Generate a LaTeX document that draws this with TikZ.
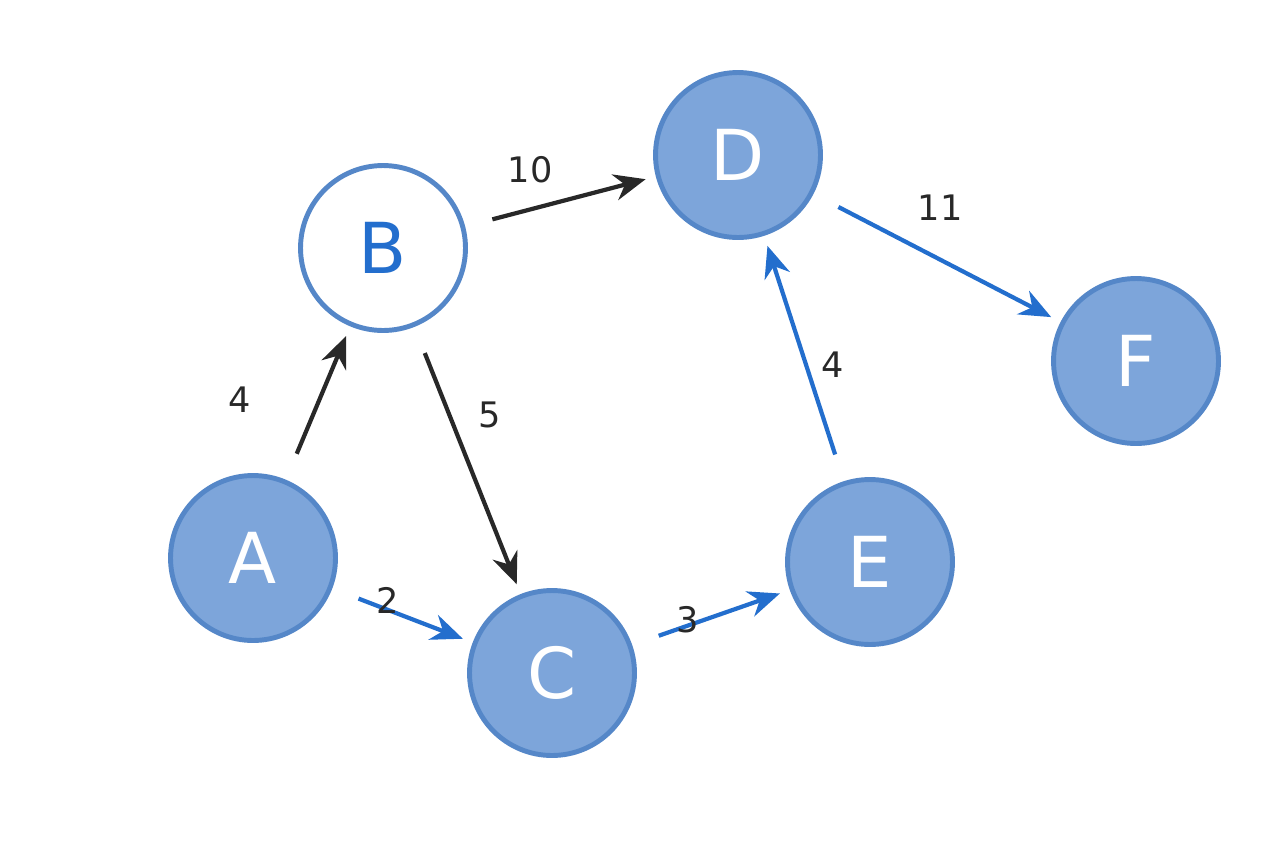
\documentclass[tikz,border=0pt]{standalone}
\usepackage{fontspec}
\setmainfont{DejaVu Sans}
\usetikzlibrary{arrows.meta}
\definecolor{nfill}{RGB}{125,165,218}
\definecolor{nline}{RGB}{85,135,200}
\definecolor{eblue}{RGB}{35,110,205}
\definecolor{eblack}{RGB}{40,40,40}
\begin{document}
\begin{tikzpicture}[x=0.02cm,y=-0.02cm,
 n/.style={circle,minimum size=3.3cm,draw=nline,line width=2.8pt,fill=nfill,text=white,font=\fontsize{40}{44}\selectfont},
 nw/.style={n,fill=white,text=eblue},
 e/.style={line width=2.4pt,-{Stealth[length=18pt,width=15pt]},shorten <=16pt,shorten >=6pt},
 eb/.style={e,draw=eblack},
 ebl/.style={e,draw=eblue},
 lb/.style={font=\fontsize{20}{22}\selectfont,text=eblack}]
\useasboundingbox (0,0) rectangle (1280,853);
\node[n] (A) at (253,558) {A};
\node[nw] (B) at (383,248) {B};
\node[n] (C) at (552,673) {C};
\node[n] (D) at (738,155) {D};
\node[n] (E) at (870,562) {E};
\node[n] (F) at (1136,361) {F};
\draw[eb] (A) -- (B);
\draw[eb] (B) -- (C);
\draw[eb] (B) -- (D);
\draw[ebl] (A) -- (C);
\draw[ebl] (C) -- (E);
\draw[ebl] (E) -- (D);
\draw[ebl] (D) -- (F);
\node[lb] (l1) at (240,400) {4};
\node[lb] (l2) at (490,415) {5};
\node[lb] (l3) at (530,170) {10};
\node[lb] (l4) at (388,600) {2};
\node[lb] (l5) at (688,620) {3};
\node[lb] (l6) at (833,365) {4};
\node[lb] (l7) at (940,208) {11};
\end{tikzpicture}
\end{document}
